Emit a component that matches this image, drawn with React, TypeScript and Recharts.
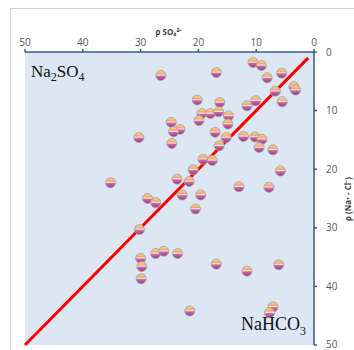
import React from 'react'
import {
    ScatterChart,
    Scatter,
    XAxis,
    YAxis,
    CartesianGrid,
    ReferenceLine,
} from 'recharts'

// ρ SO4 2- (x) and ρ (Na+ - Cl-) (y)
const sulfate = [
    26.5, 10.55, 9.1, 16.9, 8.1, 5.6, 3.5, 3.2, 6.7, 5.5,
    10.1, 11.6, 20.2, 16.3, 19.4, 17.9, 16.5, 14.8, 19.9, 14.9,
    24.7, 23.2, 24.3, 17.1, 24.6, 15.2, 12.2, 10.2, 9.0, 16.4,
    9.5, 7.1, 19.2, 17.6, 20.9, 5.8, 23.7, 21.6, 13.0, 7.8,
    30.3, 35.2, 28.8, 27.4, 30.2, 30.0, 29.8, 29.9, 27.4, 26.0,
    23.6, 22.8, 19.6, 20.5, 16.9, 11.6, 6.1, 21.5, 7.1, 7.7,
]
const naMinusCl = [
    4.0, 1.8, 2.3, 3.5, 4.4, 3.6, 5.9, 6.5, 6.7, 8.5,
    8.3, 9.2, 8.2, 8.6, 10.5, 10.5, 10.2, 10.9, 11.7, 12.3,
    12.0, 13.2, 13.6, 13.7, 15.6, 14.6, 14.4, 14.5, 14.9, 16.0,
    16.3, 16.7, 18.3, 18.5, 20.1, 20.3, 21.7, 22.1, 23.0, 23.1,
    14.6, 22.3, 25.0, 25.7, 30.3, 35.2, 36.6, 38.7, 34.4, 34.0,
    34.4, 24.4, 24.4, 26.8, 36.2, 37.4, 36.3, 44.2, 43.5, 44.5,
]
const ticks = [0, 10, 20, 30, 40, 50]
const lineEnds = [1, 50]

const points = sulfate.map((s, i) => ({ so4: s, nacl: naMinusCl[i] }))
const diagonal = lineEnds.map(v => ({ x: v, y: v }))

const axisColor = '#3a5a8c'
const tickStyle = { fontSize: 10, fill: '#595959', fontFamily: 'Open Sans, sans-serif' }

// striped marble-looking marker
const Ball = (props: any) => {
    const { cx, cy } = props
    if (cx == null || cy == null) return null
    return <circle cx={cx} cy={cy} r={5} fill="url(#ballFill)" stroke="#a09aa6" strokeWidth={0.8} />
}

export default function App() {
    return (
        <div style={{ position: 'absolute', left: 0, top: 0, width: 354, height: 350, background: '#fff', overflow: 'hidden' }}>
            <div style={{ position: 'absolute', left: 10, top: 8, width: 400, height: 400, borderLeft: '1px solid #cfcfcf', borderTop: '1px solid #cfcfcf' }} />
            <ScatterChart width={354} height={350} margin={{ top: 22, right: 10, bottom: 5, left: 25 }}>
                <defs>
                    <linearGradient id="ballFill" x1="0" y1="0" x2="0" y2="1">
                        <stop offset="0%" stopColor="#f8d88e" />
                        <stop offset="35%" stopColor="#f2aa6a" />
                        <stop offset="47%" stopColor="#fbe4de" />
                        <stop offset="57%" stopColor="#d468a8" />
                        <stop offset="100%" stopColor="#8a3c7e" />
                    </linearGradient>
                </defs>
                <CartesianGrid fill="#dde7f4" horizontal={false} vertical={false} />
                <XAxis
                    type="number"
                    dataKey="so4"
                    orientation="top"
                    reversed
                    domain={[0, 50]}
                    ticks={ticks}
                    height={30}
                    stroke={axisColor}
                    strokeWidth={1.5}
                    tickSize={3}
                    tickMargin={3}
                    tick={tickStyle}
                />
                <YAxis
                    type="number"
                    dataKey="nacl"
                    orientation="right"
                    reversed
                    domain={[0, 50]}
                    ticks={ticks}
                    width={30}
                    stroke={axisColor}
                    strokeWidth={1.5}
                    tickSize={3}
                    tickMargin={9}
                    tick={{ ...tickStyle, textAnchor: 'start' }}
                />
                <ReferenceLine segment={diagonal} stroke="#ff0000" strokeWidth={3} />
                <Scatter data={points} shape={Ball} isAnimationActive={false} />
            </ScatterChart>
            <div style={{ position: 'absolute', left: 152, top: 26, width: 34, textAlign: 'center', fontSize: 8, fontWeight: 'bold', color: '#404040', fontFamily: 'Open Sans, sans-serif', whiteSpace: 'nowrap' }}>
                ρ SO₄²⁻
            </div>
            <div style={{ position: 'absolute', left: 347, top: 199, transform: 'translate(-50%, -50%) rotate(-90deg)', fontSize: 8, fontWeight: 'bold', color: '#404040', fontFamily: 'Open Sans, sans-serif', whiteSpace: 'nowrap' }}>
                ρ (Na⁺ - Cl⁻)
            </div>
            <div style={{ position: 'absolute', left: 31, top: 62, fontSize: 17, fontFamily: 'Liberation Serif, serif', color: '#111', whiteSpace: 'nowrap' }}>
                Na<sub style={{ fontSize: 12 }}>2</sub>SO<sub style={{ fontSize: 12 }}>4</sub>
            </div>
            <div style={{ position: 'absolute', left: 241, top: 314, fontSize: 18, fontFamily: 'Liberation Serif, serif', color: '#111', whiteSpace: 'nowrap' }}>
                NaHCO<sub style={{ fontSize: 12 }}>3</sub>
            </div>
        </div>
    )
}
